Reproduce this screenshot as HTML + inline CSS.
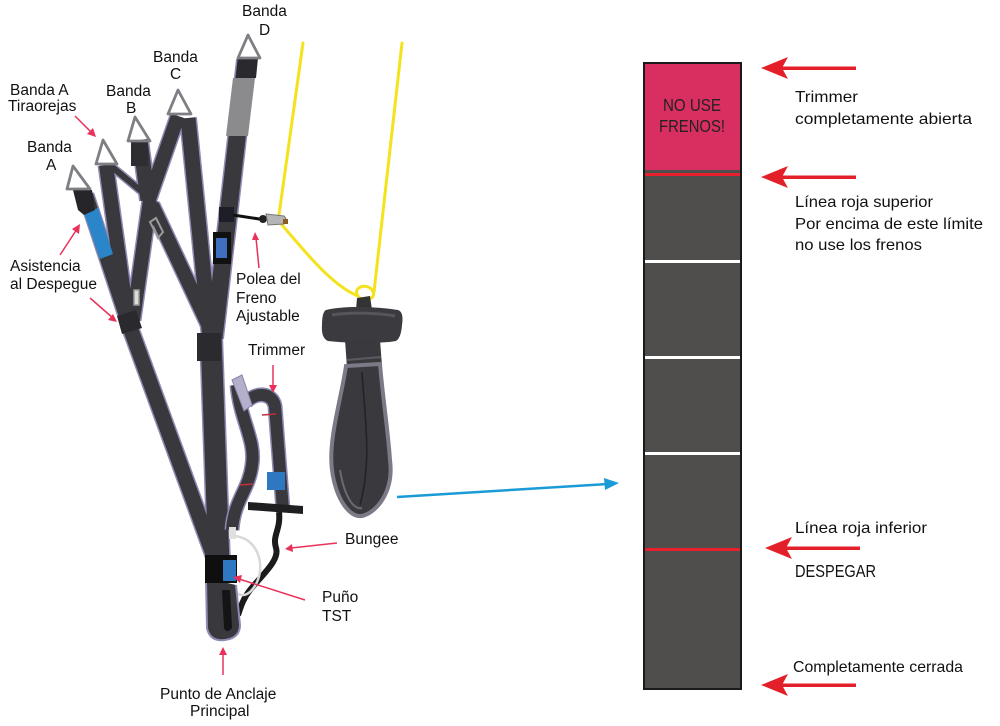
<!DOCTYPE html>
<html><head><meta charset="utf-8"><style>
html,body{margin:0;padding:0;background:#fff;}
svg{display:block;}
.l{font-family:"Liberation Sans",Arial,sans-serif;font-size:15.5px;fill:#111;}
.r{font-family:"Liberation Sans",Arial,sans-serif;font-size:16px;fill:#111;}
</style></head><body>
<svg width="1000" height="726" viewBox="0 0 1000 726" xmlns="http://www.w3.org/2000/svg">
<rect width="1000" height="726" fill="#fff"/>

<!-- ===== Yellow brake lines ===== -->
<g fill="none" stroke="#f4e21c" stroke-width="3" stroke-linecap="round">
  <path d="M303 43 L278 222"/>
  <path d="M281 224 C300 245 330 285 358 296"/>
  <path d="M402 43 L374 292"/>
  <path d="M358 296 C352 288 366 282 372 290 C378 298 366 302 360 298"/>
</g>

<!-- ===== Harness straps ===== -->
<g stroke-linecap="butt" fill="none">
  <g stroke="#8e8ab4">
    <line x1="188" y1="118" x2="210" y2="338" stroke-width="18"/>
    <line x1="246" y1="60" x2="214" y2="338" stroke-width="20"/>
    <line x1="152" y1="205" x2="213" y2="335" stroke-width="17"/>
    <line x1="178" y1="116" x2="148" y2="202" stroke-width="17"/>
    <line x1="140" y1="140" x2="148" y2="200" stroke-width="18"/>
    <line x1="150" y1="200" x2="133" y2="320" stroke-width="17"/>
    <line x1="112" y1="167" x2="152" y2="200" stroke-width="9"/>
    <line x1="106" y1="165" x2="128" y2="322" stroke-width="17"/>
    <line x1="86" y1="195" x2="128" y2="322" stroke-width="17"/>
    <line x1="128" y1="322" x2="217" y2="565" stroke-width="18"/>
    <line x1="211" y1="335" x2="219" y2="565" stroke-width="24"/>
  </g>
  <g stroke="#38383d">
    <line x1="188" y1="118" x2="210" y2="338" stroke-width="15"/>
    <line x1="246" y1="60" x2="214" y2="338" stroke-width="17"/>
    <line x1="152" y1="205" x2="213" y2="335" stroke-width="14"/>
    <line x1="178" y1="116" x2="148" y2="202" stroke-width="14"/>
    <line x1="140" y1="140" x2="148" y2="200" stroke-width="15"/>
    <line x1="150" y1="200" x2="133" y2="320" stroke-width="14"/>
    <line x1="112" y1="167" x2="152" y2="200" stroke-width="6"/>
    <line x1="106" y1="165" x2="128" y2="322" stroke-width="14"/>
    <line x1="86" y1="195" x2="128" y2="322" stroke-width="14"/>
    <line x1="128" y1="322" x2="217" y2="565" stroke-width="15"/>
    <line x1="211" y1="335" x2="219" y2="565" stroke-width="21"/>
  </g>
</g>
<polygon points="233,78 255,78 248,136 226,136" fill="#8b8b8e"/>
<polygon points="238,58 258,58 256,78 236,78" fill="#2a2a2e"/>
<rect x="219" y="207" width="15" height="15" fill="#1e1e28"/>
<rect x="213" y="232" width="18" height="32" fill="#111"/>
<rect x="216" y="238" width="11" height="20" fill="#3f6fc0"/>
<polygon points="84,213 98,208 113,254 100,259" fill="#2a86c8"/>
<polygon points="73,190 92,190 95,210 84,215 78,210" fill="#26262a"/>
<rect x="131" y="140" width="17" height="26" fill="#2e2e32"/>
<path d="M150 222 L156 218 L163 232 L158 238 Z" fill="none" stroke="#9a9a9a" stroke-width="2"/>
<path d="M134 290 L139 290 L139 305 L134 305 Z" fill="#ddd" stroke="#999" stroke-width="1.5"/>
<polygon points="117,316 136,310 142,328 122,334" fill="#2a2a2e"/>
<rect x="197" y="333" width="24" height="28" fill="#2b2b2f"/>

<!-- Carabiners -->
<g fill="none" stroke="#7e7e84" stroke-width="2.8" stroke-linejoin="round">
  <polygon points="248,35 238,58 260,58"/>
  <polygon points="178,90 168,114 191,114"/>
  <polygon points="135,117 128,141 150,141"/>
  <polygon points="103,140 96,164 117,164"/>
  <polygon points="73,166 67,189 90,189"/>
</g>

<!-- Brake pulley -->
<line x1="233" y1="215" x2="266" y2="220" stroke="#111" stroke-width="3"/>
<circle cx="263" cy="219" r="4" fill="#222"/>
<path d="M266 214 L284 216 Q288 220 284 224 L268 225 Z" fill="#b5b5b8" stroke="#777" stroke-width="1"/>
<rect x="283" y="219" width="5" height="5" fill="#8a5a20"/>

<!-- ===== Trimmer / lower parts ===== -->
<path d="M237 385 C240 420 256 440 252 465 C249 490 234 500 232 530" fill="none" stroke="#8e8ab4" stroke-width="15"/>
<path d="M237 385 C240 420 256 440 252 465 C249 490 234 500 232 530" fill="none" stroke="#38383d" stroke-width="12"/>
<line x1="240" y1="485" x2="253" y2="484" stroke="#c0303a" stroke-width="1.5"/>
<path d="M246 402 C256 392 272 392 275 406 L283 510" fill="none" stroke="#8e8ab4" stroke-width="15"/>
<path d="M246 402 C256 392 272 392 275 406 L283 510" fill="none" stroke="#38383d" stroke-width="12"/>
<line x1="262" y1="415" x2="276" y2="414" stroke="#c0303a" stroke-width="1.5"/>
<rect x="267" y="472" width="18" height="18" fill="#2d78c0"/>
<path d="M232 380 L242 375 L252 405 L244 411 Z" fill="#b4b0cc" stroke="#8884a8" stroke-width="1"/>
<polygon points="248,502 303,506 303,514 248,510" fill="#1f1f22"/>
<path d="M279 512 C281 530 272 535 276 548 C280 560 262 575 250 590 C242 600 240 610 238 615" fill="none" stroke="#1b1b1d" stroke-width="6"/>
<path d="M234 536 C262 538 268 575 250 592 C244 597 238 595 236 592" fill="none" stroke="#d8d8d8" stroke-width="2.5"/>
<rect x="229" y="527" width="7" height="12" fill="#e0e0e0"/>
<path d="M206 578 L207 628 Q210 642 225 640 Q240 638 240 625 L236 585" fill="#38383d" stroke="#8e8ab4" stroke-width="2"/>
<path d="M222 590 L224 628 Q227 634 232 628 L230 590 Z" fill="#141416"/>
<rect x="205" y="555" width="32" height="28" fill="#0f0f10"/>
<rect x="223" y="560" width="13" height="21" fill="#2d78c0"/>

<!-- ===== Brake handle ===== -->
<path d="M357 298 L370 296 L372 310 L356 310 Z" fill="#333"/>
<path d="M326 310 C345 305 380 307 398 310 Q404 312 402 325 Q401 338 396 341 C380 344 345 343 328 341 Q321 338 322 325 Q322 312 326 310 Z" fill="#3b3b3f"/>
<path d="M332 315 C350 312 380 313 395 316" fill="none" stroke="#55555a" stroke-width="3"/>
<path d="M345 340 L380 340 L382 366 L347 368 Z" fill="#3a3a3e"/>
<line x1="347" y1="360" x2="381" y2="357" stroke="#5a5a60" stroke-width="2"/>
<path d="M346 366 C341 400 328 440 332 470 C336 500 350 518 362 516 C378 512 394 490 390 460 C388 430 383 400 380 364 Z" fill="#3a3a3e" stroke="#7c7a86" stroke-width="4"/>
<path d="M362 372 C365 420 372 460 360 505" fill="none" stroke="#222" stroke-width="1.5"/>
<path d="M340 470 C345 500 355 510 362 508" fill="none" stroke="#6a6a72" stroke-width="2"/>

<!-- ===== Blue arrow ===== -->
<line x1="397" y1="497" x2="608" y2="484" stroke="#1a9ad6" stroke-width="2.5"/>
<polygon points="604,478 619,483 605,490" fill="#1a9ad6"/>

<!-- ===== Left red pointer arrows ===== -->
<g stroke="#e8325a" stroke-width="1.5" fill="#e8325a">
  <line x1="75" y1="116" x2="92" y2="133"/><polygon points="96,137 87,134 93,128" stroke="none"/>
  <line x1="60" y1="255" x2="77" y2="229"/><polygon points="80,224 79,234 72,229" stroke="none"/>
  <line x1="90" y1="298" x2="113" y2="318"/><polygon points="117,322 108,320 113,314" stroke="none"/>
  <line x1="259" y1="268" x2="256" y2="238"/><polygon points="255,232 259,240 252,240" stroke="none"/>
  <line x1="273" y1="365" x2="273" y2="387"/><polygon points="273,393 269,385 277,385" stroke="none"/>
  <line x1="337" y1="543" x2="291" y2="548"/><polygon points="285,549 292,544 293,552" stroke="none"/>
  <line x1="305" y1="600" x2="239" y2="579"/><polygon points="233,577 242,575 240,583" stroke="none"/>
  <line x1="223" y1="675" x2="223" y2="653"/><polygon points="223,647 227,655 219,655" stroke="none"/>
</g>

<!-- ===== Left labels ===== -->
<g class="l">
  <text x="242" y="16">Banda</text>
  <text x="259" y="35">D</text>
  <text x="153" y="62">Banda</text>
  <text x="170" y="79">C</text>
  <text x="106" y="96">Banda</text>
  <text x="126" y="113">B</text>
  <text x="10" y="95">Banda A</text>
  <text x="8" y="111">Tiraorejas</text>
  <text x="27" y="152">Banda</text>
  <text x="46" y="170">A</text>
  <text x="10" y="271">Asistencia</text>
  <text x="10" y="289">al Despegue</text>
  <text x="236" y="284">Polea del</text>
  <text x="236" y="303">Freno</text>
  <text x="236" y="321">Ajustable</text>
  <text x="248" y="355">Trimmer</text>
  <text x="345" y="544">Bungee</text>
  <text x="322" y="602">Puño</text>
  <text x="322" y="621">TST</text>
  <text x="160" y="699">Punto de Anclaje</text>
  <text x="190" y="716">Principal</text>
</g>

<!-- ===== Trimmer strip ===== -->
<rect x="644" y="63" width="97" height="626" fill="#4f4e4c" stroke="#1a1a1a" stroke-width="2"/>
<rect x="645" y="64" width="95" height="106" fill="#d92f60"/>
<rect x="645" y="173" width="95" height="3" fill="#e8202e"/>
<rect x="645" y="260" width="95" height="3" fill="#fff"/>
<rect x="645" y="356" width="95" height="3" fill="#fff"/>
<rect x="645" y="452" width="95" height="3" fill="#fff"/>
<rect x="645" y="548" width="95" height="3" fill="#e8202e"/>
<text x="692" y="111" text-anchor="middle" font-family="'Liberation Sans',Arial,sans-serif" font-size="17.5" fill="#222" textLength="58" lengthAdjust="spacingAndGlyphs">NO USE</text>
<text x="692" y="132" text-anchor="middle" font-family="'Liberation Sans',Arial,sans-serif" font-size="17.5" fill="#222" textLength="66" lengthAdjust="spacingAndGlyphs">FRENOS!</text>

<!-- ===== Right red arrows ===== -->
<g fill="#e3202a">
  <rect x="780" y="66.5" width="76" height="3.5"/><polygon points="761,68 788,57 782,68 788,79"/>
  <rect x="780" y="175.5" width="76" height="3.5"/><polygon points="761,177 788,166 782,177 788,188"/>
  <rect x="784" y="546.5" width="76" height="3.5"/><polygon points="765,548 792,537 786,548 792,559"/>
  <rect x="780" y="683.5" width="76" height="3.5"/><polygon points="761,685 788,674 782,685 788,696"/>
</g>

<!-- ===== Right labels ===== -->
<g class="r">
  <text x="795" y="102" textLength="63" lengthAdjust="spacingAndGlyphs">Trimmer</text>
  <text x="795" y="124" textLength="177" lengthAdjust="spacingAndGlyphs">completamente abierta</text>
  <text x="795" y="207" textLength="138" lengthAdjust="spacingAndGlyphs">Línea roja superior</text>
  <text x="795" y="229" textLength="188" lengthAdjust="spacingAndGlyphs">Por encima de este límite</text>
  <text x="795" y="250" textLength="127" lengthAdjust="spacingAndGlyphs">no use los frenos</text>
  <text x="795" y="533" textLength="132" lengthAdjust="spacingAndGlyphs">Línea roja inferior</text>
  <text x="795" y="577" font-size="17.5" textLength="81" lengthAdjust="spacingAndGlyphs">DESPEGAR</text>
  <text x="793" y="672" textLength="170" lengthAdjust="spacingAndGlyphs">Completamente cerrada</text>
</g>
</svg>
</body></html>
